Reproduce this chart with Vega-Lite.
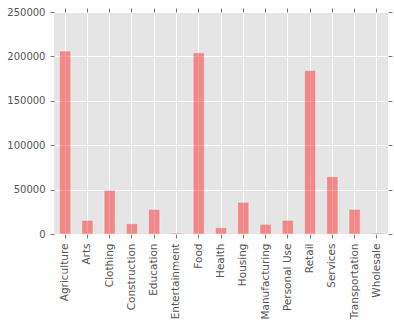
{
  "$schema": "https://vega.github.io/schema/vega-lite/v6.json",
  "autosize": "none",
  "width": 334,
  "height": 222,
  "padding": {"left": 54, "top": 12, "right": 6, "bottom": 89},
  "background": "white",
  "config": {
    "view": {"fill": "#E5E5E5", "stroke": null},
    "font": "DejaVu Sans",
    "axis": {
      "labelFont": "DejaVu Sans",
      "labelFontSize": 10,
      "labelColor": "#555555",
      "tickColor": "#777777",
      "tickSize": 4,
      "domain": false,
      "gridColor": "white",
      "gridWidth": 1,
      "gridOpacity": 1,
      "title": null
    }
  },
  "data": {
    "values": [
      {"sector": "Agriculture", "amount": 206000},
      {"sector": "Arts", "amount": 15400},
      {"sector": "Clothing", "amount": 49200},
      {"sector": "Construction", "amount": 11600},
      {"sector": "Education", "amount": 27800},
      {"sector": "Entertainment", "amount": 1100},
      {"sector": "Food", "amount": 204000},
      {"sector": "Health", "amount": 7100},
      {"sector": "Housing", "amount": 35700},
      {"sector": "Manufacturing", "amount": 10900},
      {"sector": "Personal Use", "amount": 15400},
      {"sector": "Retail", "amount": 184000},
      {"sector": "Services", "amount": 64500},
      {"sector": "Transportation", "amount": 27800},
      {"sector": "Wholesale", "amount": 1100}
    ]
  },
  "layer": [
    {
      "mark": {"type": "bar", "fill": "red", "fillOpacity": 0.4, "stroke": "white", "strokeOpacity": 0.4, "strokeWidth": 1},
      "encoding": {
        "x": {
          "field": "sector", "type": "nominal", "sort": null,
          "scale": {"paddingInner": 0.5, "paddingOuter": 0.25},
          "axis": {"orient": "bottom", "labelAngle": 270, "labelAlign": "right", "labelBaseline": "middle", "labelPadding": 5, "labelFontSize": 10.5, "grid": true, "bandPosition": 0.5}
        },
        "y": {
          "field": "amount", "type": "quantitative",
          "scale": {"domain": [0, 250000], "nice": false},
          "axis": {"orient": "left", "values": [0, 50000, 100000, 150000, 200000, 250000], "format": "d", "labelPadding": 5, "grid": true}
        }
      }
    },
    {
      "mark": {"type": "bar", "opacity": 0},
      "encoding": {
        "x": {
          "field": "sector", "type": "nominal", "sort": null,
          "axis": {"orient": "top", "labels": false, "grid": false, "ticks": true, "bandPosition": 0.5}
        },
        "y": {
          "field": "amount", "type": "quantitative",
          "axis": {"orient": "right", "labels": false, "grid": false, "ticks": true, "values": [0, 50000, 100000, 150000, 200000, 250000]}
        }
      }
    }
  ],
  "resolve": {"axis": {"x": "independent", "y": "independent"}}
}
